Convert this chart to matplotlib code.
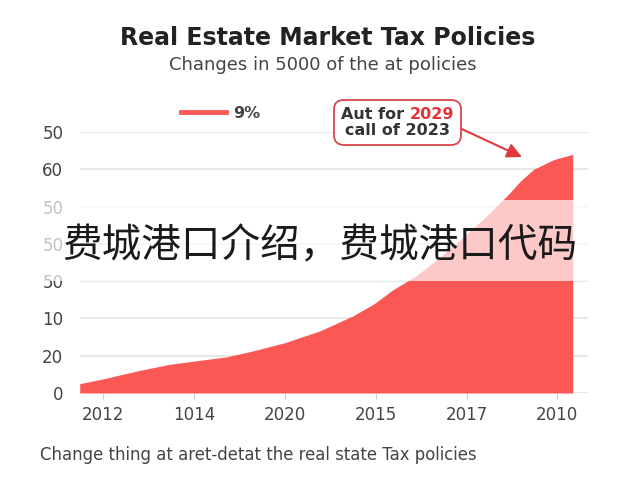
import matplotlib
matplotlib.use("Agg")
import matplotlib.pyplot as plt
from matplotlib.lines import Line2D
from matplotlib.offsetbox import TextArea, HPacker, VPacker, AnnotationBbox

# ---- data ----
x_tick_labels = ["2012", "1014", "2020", "2015", "2017", "2010"]
y_tick_labels = ["0", "20", "10", "50", "50", "50", "60", "50"]
x_vals = [-0.26, 0.0, 0.37, 0.73, 0.98, 1.36, 1.65, 2.0, 2.39, 2.75, 2.98, 3.19, 3.45,
          3.7, 3.95, 4.2, 4.45, 4.6, 4.74, 4.96, 5.17]
y_vals = [2.5, 3.8, 5.9, 7.7, 8.5, 9.7, 11.3, 13.5, 16.7, 20.7, 23.9, 27.7, 31.5,
          36.3, 41.5, 47.0, 53.0, 57.0, 60.0, 62.6, 64.0]
legend_label = "9%"
title = "Real Estate Market Tax Policies"
subtitle = "Changes in 5000 of the at policies"
footer = "Change thing at aret-detat the real state Tax policies"
overlay = "费城港口介绍，费城港口代码"

RED = "#F95855"
plt.rcParams['font.family'] = ['DejaVu Sans']

fig = plt.figure(figsize=(6.4, 4.8), dpi=100)
ax = fig.add_axes([80 / 640, 87 / 480, 508 / 640, 261 / 480])

ax.fill_between(x_vals, y_vals, 0, color=RED, linewidth=0, zorder=2)
ax.set_xlim(-0.257, 5.338)
ax.set_ylim(0, 70)
ax.set_yticks(range(0, 80, 10))
ax.set_yticklabels(y_tick_labels)
ax.set_xticks(range(len(x_tick_labels)))
ax.set_xticklabels(x_tick_labels)
for s in ax.spines.values():
    s.set_visible(False)
ax.grid(axis='y', color='#e3e3e3', linewidth=1.2, zorder=0)
ax.tick_params(axis='y', length=0, labelsize=12, labelcolor='#444444', pad=12)
ax.tick_params(axis='x', length=4, color='#cccccc', labelsize=12, labelcolor='#444444', pad=5)

# legend
h = Line2D([0], [0], color=RED, linewidth=3.5)
leg = fig.legend([h], [legend_label], loc='center left', bbox_to_anchor=(181 / 640, (480 - 113) / 480),
                 bbox_transform=fig.transFigure, frameon=False, fontsize=11.5,
                 handlelength=2.8, handletextpad=0.45, borderpad=0, borderaxespad=0)
for t in leg.get_texts():
    t.set_color('#444444')
    t.set_fontweight('bold')

# annotation box
tp = dict(color='#333333', fontsize=11.5, fontweight='bold')
line1 = HPacker(children=[TextArea("Aut for ", textprops=tp),
                          TextArea("2029", textprops=dict(tp, color='#E8323A'))],
                align='baseline', pad=0, sep=0)
line2 = TextArea("call of 2023", textprops=tp)
box = VPacker(children=[line1, line2], align='center', pad=0, sep=1)
ab = AnnotationBbox(box, xy=(4.61, 63.3), xycoords='data',
                    xybox=(3.24, 72.6), boxcoords='data',
                    box_alignment=(0.5, 0.5), annotation_clip=False,
                    bboxprops=dict(boxstyle='round,pad=0.5,rounding_size=0.7', fc='white', ec='#D9464B', lw=1.3),
                    arrowprops=dict(arrowstyle='-|>', color='#E0393E', lw=1.5, mutation_scale=16,
                                    shrinkA=0, shrinkB=0, relpos=(1.0, 0.4)))
ax.add_artist(ab)

fig.text(0.512, (480 - 38) / 480, title, ha='center', va='center', fontsize=17, fontweight='bold', color='#222222')
fig.text(0.504, (480 - 65) / 480, subtitle, ha='center', va='center', fontsize=13, color='#444444')
fig.text(40 / 640, (480 - 455) / 480, footer, ha='left', va='center', fontsize=11.9, color='#444444')

# overlay band + text
fig.patches.append(plt.Rectangle((0, (480 - 281) / 480), 1, 81 / 480, transform=fig.transFigure,
                                 facecolor='white', alpha=0.68, edgecolor='none', zorder=5))
fig.text(0.5, (480 - 246) / 480, overlay, ha='center', va='center', fontsize=28.5,
         color='#1a1a1a', family=['Noto Sans CJK SC', 'DejaVu Sans'], zorder=6)

fig.savefig("out.png", dpi=100)
